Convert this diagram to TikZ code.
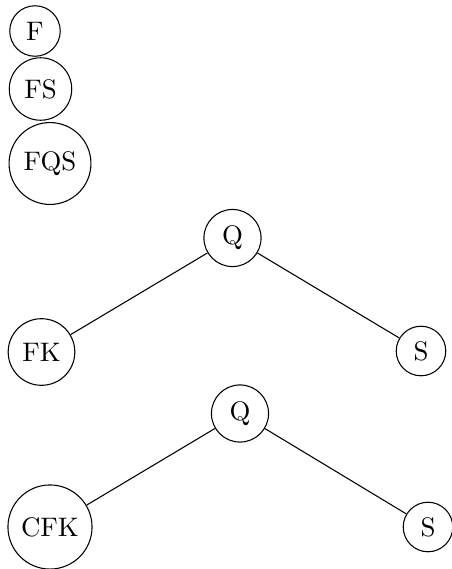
\documentclass[tikz,border=0pt]{standalone}
\begin{document}
\begin{tikzpicture}[x=0.3731pt,y=-0.3731pt,
  cnode/.style={draw,circle,line width=0.4pt},
  edge/.style={line width=0.4pt}]
\useasboundingbox (0,0) rectangle (451,569);
\node[cnode] (f) at (35,31) {F};
\node[cnode] (fs) at (40.5,89) {FS};
\node[cnode] (fqs) at (50,163.5) {FQS};
\node[cnode] (q1) at (232.5,238) {Q};
\node[cnode] (fk) at (41.5,352) {FK};
\node[cnode] (s1) at (421,351) {S};
\node[cnode] (q2) at (240,413.5) {Q};
\node[cnode] (cfk) at (50,527) {CFK};
\node[cnode] (s2) at (428,527) {S};
\draw[edge] (q1) -- (fk);
\draw[edge] (q1) -- (s1);
\draw[edge] (q2) -- (cfk);
\draw[edge] (q2) -- (s2);
\end{tikzpicture}
\end{document}
